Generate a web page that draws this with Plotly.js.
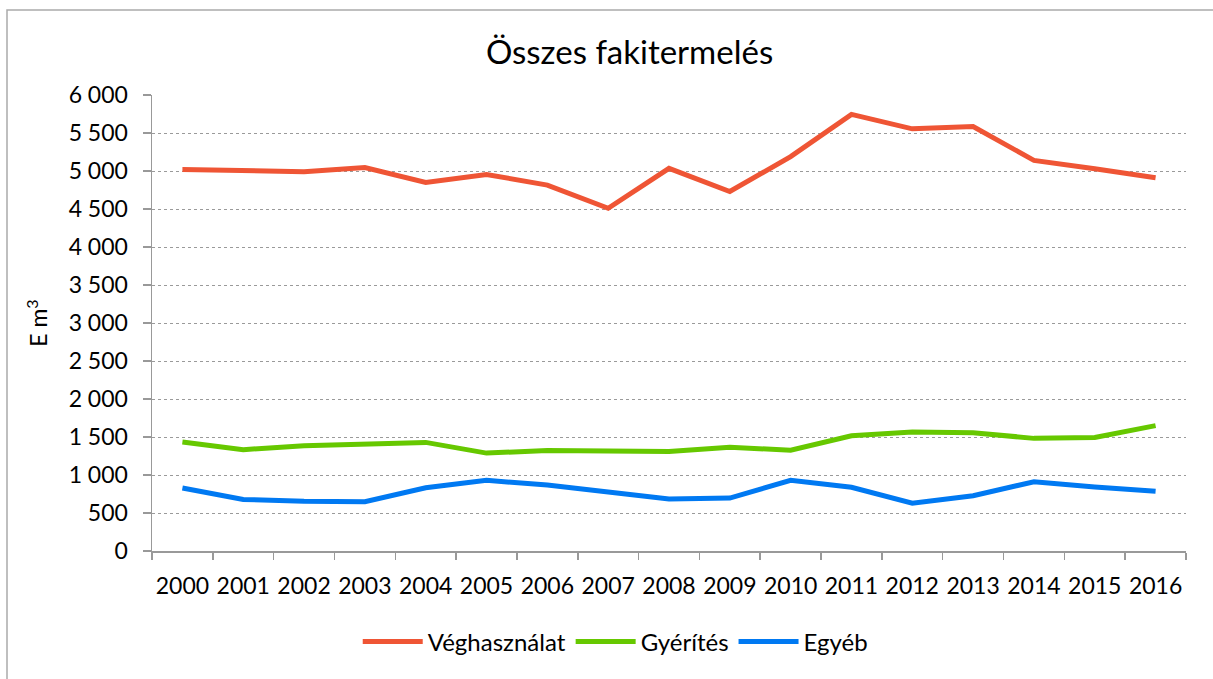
<!DOCTYPE html>
<html>
<head>
<meta charset="utf-8">
<script src="https://cdn.plot.ly/plotly-3.0.1.min.js"></script>
<style>
html,body{margin:0;padding:0;background:#fff;}
#chart{width:1213px;height:679px;}
</style>
</head>
<body>
<div id="chart"></div>
<script>
const years = ["2000","2001","2002","2003","2004","2005","2006","2007","2008","2009","2010","2011","2012","2013","2014","2015","2016"];
const veghasznalat = [5020,5010,4990,5045,4850,4955,4815,4510,5035,4730,5190,5745,5555,5585,5140,5030,4910];
const gyerites = [1434,1333,1386,1402,1429,1288,1323,1315,1310,1365,1325,1517,1566,1557,1482,1495,1650];
const egyeb = [828,679,653,648,832,930,868,780,683,697,930,838,630,727,912,843,786];
const seriesNames = ["Véghasználat","Gyérítés","Egyéb"];
const seriesColors = ["#EF5535","#66C800","#0079F2"];

const FONT = "Lato, 'Open Sans', sans-serif";
const allSeries = [veghasznalat, gyerites, egyeb];
const traces = allSeries.map((vals, i) => ({
  type: "scatter",
  mode: "lines",
  x: years,
  y: vals,
  name: seriesNames[i],
  line: {color: seriesColors[i], width: 5}
}));

const layout = {
  width: 1213,
  height: 679,
  paper_bgcolor: "#fff",
  plot_bgcolor: "#fff",
  separators: ", ",
  margin: {l: 152, r: 27, t: 95, b: 128},
  font: {family: FONT, size: 23, color: "#000"},
  title: {
    text: "Összes fakitermelés",
    font: {family: FONT, size: 33, color: "#000"},
    x: 0.519, xref: "container", xanchor: "center",
    y: 0.923, yref: "container", yanchor: "middle"
  },
  showlegend: true,
  legend: {
    orientation: "h",
    x: 0.448, xanchor: "center",
    y: -0.1996, yanchor: "middle",
    font: {family: FONT, size: 24, color: "#000"},
    itemwidth: 60,
    tracegroupgap: 0,
    bgcolor: "rgba(0,0,0,0)"
  },
  xaxis: {
    type: "category",
    range: [-0.5, 16.5],
    tickson: "boundaries",
    tickangle: 0,
    ticks: "outside",
    ticklen: 7,
    tickcolor: "#999",
    tickwidth: 1.5,
    ticklabelstandoff: 14,
    showline: true,
    linecolor: "#999",
    linewidth: 1.5,
    showgrid: false,
    zeroline: false,
    tickfont: {family: FONT, size: 23, color: "#000"},
    automargin: false,
    fixedrange: true
  },
  yaxis: {
    range: [0, 6000],
    dtick: 500,
    tick0: 0,
    separatethousands: true,
    ticks: "outside",
    ticklen: 8,
    tickcolor: "#999",
    tickwidth: 1.5,
    ticklabelstandoff: 10,
    showline: true,
    linecolor: "#999",
    linewidth: 1.5,
    showgrid: true,
    gridcolor: "#9a9a9a",
    gridwidth: 1,
    griddash: "dot",
    zeroline: false,
    tickfont: {family: FONT, size: 23, color: "#000"},
    title: {text: "E m<sup>3</sup>", font: {family: FONT, size: 23, color: "#000"}, standoff: 14},
    automargin: false,
    fixedrange: true
  },
  shapes: [{
    type: "rect",
    xref: "paper", yref: "paper",
    x0: (7 - 152) / 1034, x1: 1.1,
    y0: -0.4, y1: (551 - 10) / 456,
    line: {color: "#AAAAAA", width: 1.5},
    fillcolor: "rgba(0,0,0,0)",
    layer: "below"
  }]
};

Plotly.newPlot("chart", traces, layout, {displayModeBar: false, staticPlot: true});
</script>
</body>
</html>
